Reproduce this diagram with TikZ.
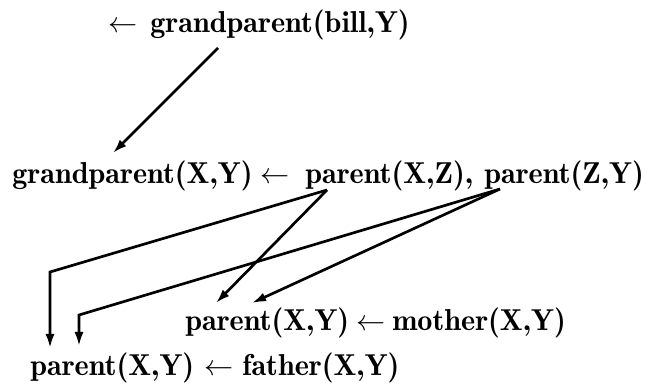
\documentclass[tikz,border=0pt]{standalone}
\usetikzlibrary{arrows.meta}
\usetikzlibrary{calc}
\tikzset{
    every node/.append style={inner sep=0pt, anchor=base west, font=\fontsize{21.5}{26}\fontseries{b}\selectfont},
    call/.style={-{Latex[length=10pt,width=6.5pt]}, line width=1.9pt},
}

\begin{document}
\begin{tikzpicture}
\useasboundingbox (0,0) rectangle (16.35,-9.675);
\node (query) at (2.7,-0.825) {$\leftarrow$};
\node (goal) at (3.75,-0.825) {grandparent(bill,Y)};

\node (gp) at (0.3,-4.575) {grandparent(X,Y)};
\node (if1) at (6.5,-4.575) {$\leftarrow$};
\node (pxz) at (7.625,-4.575) {parent(X,Z),};
\node (pzy) at (12.1,-4.575) {parent(Z,Y)};

\node (pm) at (4.625,-8.25) {parent(X,Y)};
\node (if2) at (8.9,-8.25) {$\leftarrow$};
\node (mother) at (9.8,-8.25) {mother(X,Y)};

\node (pf) at (0.75,-9.375) {parent(X,Y)};
\node (if3) at (5.1,-9.375) {$\leftarrow$};
\node (father) at (6.05,-9.375) {father(X,Y)};

\draw[call] ($(goal.base west)+(1.7,-0.375)$) -- ($(gp.base west)+(2.525,0.75)$);
\draw[call] ($(pxz.base west)+(0.55,-0.175)$) -- ($(pf.base west)+(0.5,2.575)$) -- ($(pf.base west)+(0.5,0.675)$);
\draw[call] ($(pxz.base west)+(0.55,-0.175)$) -- ($(pm.base west)+(0.775,0.675)$);
\draw[call] ($(pzy.base west)+(0.4,-0.15)$) -- ($(pf.base west)+(1.225,1.5)$) -- ($(pf.base west)+(1.225,0.725)$);
\draw[call] ($(pzy.base west)+(0.4,-0.15)$) -- ($(pm.base west)+(1.675,0.675)$);
\end{tikzpicture}
\end{document}
